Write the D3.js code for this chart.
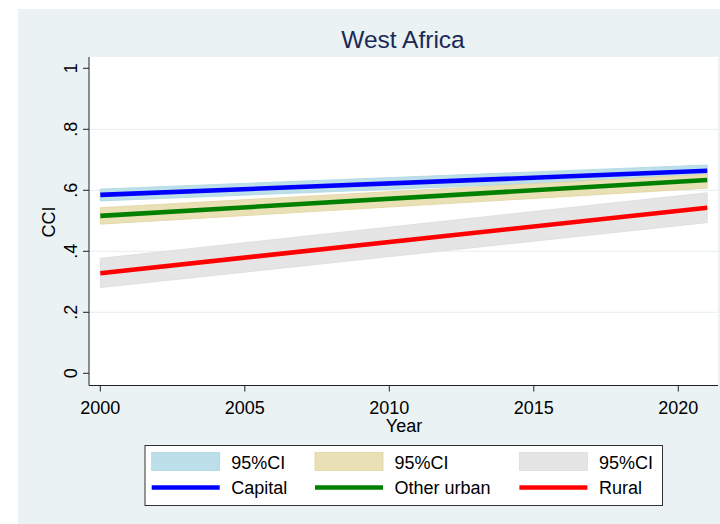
<!DOCTYPE html>
<html><head><meta charset="utf-8">
<script src="https://cdn.jsdelivr.net/npm/d3@7"></script>
<style>html,body{margin:0;padding:0;background:#fff;}svg{display:block;font-family:"Liberation Sans",Arial,sans-serif;}</style>
</head><body>
<script>
const years = [2000, 2021];
const capital = [0.585, 0.664];
const capitalLo = [0.565, 0.645];
const capitalHi = [0.604, 0.683];
const otherUrban = [0.516, 0.634];
const otherUrbanLo = [0.489, 0.607];
const otherUrbanHi = [0.543, 0.653];
const rural = [0.328, 0.543];
const ruralLo = [0.281, 0.494];
const ruralHi = [0.377, 0.592];
const xTicks = [2000, 2005, 2010, 2015, 2020];
const yTicks = [0, 0.2, 0.4, 0.6, 0.8, 1];
const yTickLabels = ["0", ".2", ".4", ".6", ".8", "1"];
const seriesNames = ["Capital", "Other urban", "Rural"];
const ciLabel = "95%CI";
const title = "West Africa";

const W = 720, H = 524;
const svg = d3.select("body").append("svg").attr("width", W).attr("height", H);
svg.append("rect").attr("x", 18).attr("y", 9).attr("width", W - 18).attr("height", H - 9).attr("fill", "#eaf2f3");

const pl = 89, pr = 718, pt = 57, pb = 385.5;
svg.append("rect").attr("x", pl).attr("y", pt).attr("width", pr - pl).attr("height", pb - pt).attr("fill", "#fff");

const x = d3.scaleLinear().domain([2000, 2020]).range([100.3, 678.3]);
const y = d3.scaleLinear().domain([0, 1]).range([373.3, 68.3]);

// gridlines
svg.append("g").selectAll("line").data(yTicks.filter(d => d > 0 && d < 1)).join("line")
  .attr("x1", pl).attr("x2", pr).attr("y1", d => y(d)).attr("y2", d => y(d))
  .attr("stroke", "#eaf2f3").attr("stroke-width", 1.2);

const series = [
  {name: seriesNames[0], v: capital, lo: capitalLo, hi: capitalHi, line: "#0000ff", fill: "#bcdfea", edge: "#acd5e3"},
  {name: seriesNames[1], v: otherUrban, lo: otherUrbanLo, hi: otherUrbanHi, line: "#008000", fill: "#eae0b5", edge: "#e0d4a0"},
  {name: seriesNames[2], v: rural, lo: ruralLo, hi: ruralHi, line: "#ff0000", fill: "#e5e5e5", edge: "#dcdcdc"}
];

const area = d3.area().x(d => x(d.yr)).y0(d => y(d.lo)).y1(d => y(d.hi));
const line = d3.line().x(d => x(d.yr)).y(d => y(d.v));

series.forEach(s => {
  const pts = years.map((yr, i) => ({yr, lo: s.lo[i], hi: s.hi[i]}));
  svg.append("path").attr("d", area(pts)).attr("fill", s.fill).attr("stroke", s.edge).attr("stroke-width", 0.8);
});
series.forEach(s => {
  const pts = years.map((yr, i) => ({yr, v: s.v[i]}));
  svg.append("path").attr("d", line(pts)).attr("fill", "none").attr("stroke", s.line).attr("stroke-width", 4.6);
});

// axes
const axisColor = "#222";
const fs = 18;
svg.append("line").attr("x1", pl).attr("x2", pl).attr("y1", pt).attr("y2", pb).attr("stroke", axisColor).attr("stroke-width", 1);
svg.append("line").attr("x1", pl).attr("x2", pr).attr("y1", pb).attr("y2", pb).attr("stroke", axisColor).attr("stroke-width", 1);

const gy = svg.append("g");
yTicks.forEach((t, i) => {
  gy.append("line").attr("x1", pl - 6).attr("x2", pl).attr("y1", y(t)).attr("y2", y(t)).attr("stroke", axisColor);
  gy.append("text").attr("transform", `translate(77,${y(t)}) rotate(-90)`)
    .attr("text-anchor", "middle").attr("font-size", fs).attr("fill", "#000").text(yTickLabels[i]);
});
const gx = svg.append("g");
xTicks.forEach(t => {
  gx.append("line").attr("x1", x(t)).attr("x2", x(t)).attr("y1", pb).attr("y2", pb + 6).attr("stroke", axisColor);
  gx.append("text").attr("x", x(t)).attr("y", 413.5).attr("text-anchor", "middle").attr("font-size", fs).attr("fill", "#000").text(t);
});
svg.append("text").attr("x", 404).attr("y", 432).attr("text-anchor", "middle").attr("font-size", fs).text("Year");
svg.append("text").attr("transform", "translate(55,222) rotate(-90)").attr("text-anchor", "middle").attr("font-size", fs).text("CCI");

svg.append("text").attr("x", 403).attr("y", 48).attr("text-anchor", "middle").attr("font-size", 24.5).attr("fill", "#1a2a57").text(title);

// legend
svg.append("rect").attr("x", 145).attr("y", 445.5).attr("width", 517.5).attr("height", 60).attr("fill", "#fff").attr("stroke", "#333").attr("stroke-width", 1);
const cols = [151.7, 315, 519.4];
series.forEach((s, i) => {
  const cx = cols[i];
  svg.append("rect").attr("x", cx).attr("y", 452.5).attr("width", 68).attr("height", 18).attr("fill", s.fill).attr("stroke", s.edge).attr("stroke-width", 0.8);
  svg.append("text").attr("x", cx + 79.5).attr("y", 468.5).attr("font-size", fs).text(ciLabel);
  svg.append("line").attr("x1", cx).attr("x2", cx + 68).attr("y1", 487.5).attr("y2", 487.5).attr("stroke", s.line).attr("stroke-width", 4.6);
  svg.append("text").attr("x", cx + 79.5).attr("y", 494).attr("font-size", fs).text(s.name);
});
</script>
</body></html>
